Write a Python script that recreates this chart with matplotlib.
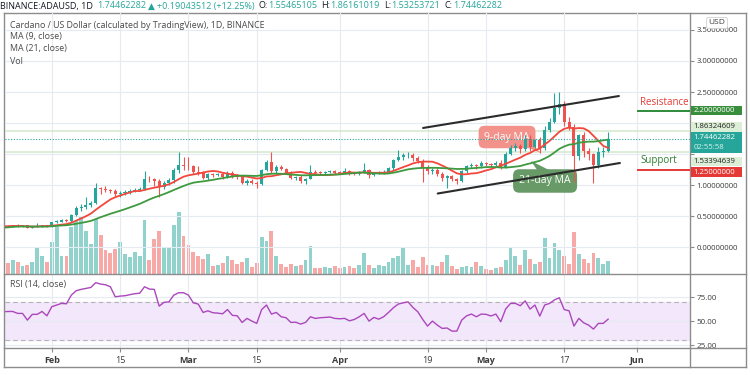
import matplotlib
matplotlib.use("Agg")
import matplotlib.pyplot as plt
import matplotlib.dates as mdates
import matplotlib.transforms as mtransforms
from matplotlib.lines import Line2D
from matplotlib.patches import Rectangle, Polygon
import numpy as np
import pandas as pd

plt.rcParams["font.family"] = ["Open Sans", "DejaVu Sans"]

# daily ADA/USD candles, 22 Jan - 26 May 2021
dates = pd.date_range("2021-01-22", "2021-05-26", freq="D")

opens = [
    .31, .34, .33, .35, .34, .35, .31, .33, .34, .35,
    .33, .40, .41, .43, .42, .52, .63, .65, .68, .71,
    .95, .93, .92, .91, .85, .87, .88, .90, .92, .94,
    1.10, 1.09, 1.07, .97, 1.03, 1.08, 1.24, 1.32, 1.31, 1.30,
    1.21, 1.20, 1.12, 1.18, 1.16, 1.17, 1.13, 1.19, 1.15, 1.13,
    1.04, 1.07, 1.04, 1.02, 1.24, 1.37, 1.22, 1.29, 1.26, 1.20,
    1.12, 1.13, 1.07, 1.10, 1.21, 1.20, 1.19, 1.21, 1.22, 1.20,
    1.19, 1.22, 1.19, 1.18, 1.20, 1.24, 1.16, 1.19, 1.20, 1.21,
    1.27, 1.40, 1.45, 1.48, 1.49, 1.44, 1.38, 1.27, 1.22, 1.25,
    1.17, 1.12, 1.14, 1.09, 1.06, 1.22, 1.30, 1.32, 1.30, 1.35,
    1.34, 1.32, 1.36, 1.29, 1.50, 1.60, 1.63, 1.58, 1.75, 1.62,
    1.72, 1.60, 1.88, 2.02, 2.25, 2.30, 2.02, 1.93, 1.47, 1.80,
    1.55, 1.50, 1.32, 1.53, 1.55465105,
]
highs = [
    .345, .35, .36, .37, .36, .355, .34, .38, .36, .355,
    .41, .44, .45, .46, .54, .66, .70, .80, .74, 1.03,
    .97, .98, .94, .93, .90, .92, .93, .95, .97, 1.22,
    1.14, 1.12, 1.10, 1.06, 1.12, 1.28, 1.53, 1.45, 1.45, 1.33,
    1.30, 1.23, 1.20, 1.20, 1.20, 1.21, 1.22, 1.22, 1.17, 1.15,
    1.09, 1.09, 1.07, 1.26, 1.40, 1.53, 1.33, 1.32, 1.28, 1.22,
    1.15, 1.16, 1.12, 1.32, 1.24, 1.22, 1.23, 1.25, 1.24, 1.22,
    1.27, 1.24, 1.21, 1.23, 1.35, 1.26, 1.21, 1.22, 1.25, 1.29,
    1.42, 1.56, 1.52, 1.53, 1.52, 1.47, 1.42, 1.33, 1.28, 1.28,
    1.21, 1.16, 1.16, 1.12, 1.24, 1.32, 1.36, 1.34, 1.38, 1.37,
    1.36, 1.39, 1.40, 1.53, 1.65, 1.68, 1.66, 1.80, 1.80, 1.75,
    1.78, 1.95, 2.08, 2.48, 2.50, 2.35, 2.10, 1.98, 1.83, 1.85,
    1.60, 1.52, 1.62, 1.62, 1.86161019,
]
lows = [
    .30, .325, .325, .33, .32, .30, .30, .32, .33, .32,
    .32, .38, .40, .40, .41, .50, .58, .62, .64, .69,
    .86, .88, .87, .83, .80, .84, .86, .88, .90, .92,
    1.05, .98, .81, .93, 1.00, 1.03, 1.20, 1.25, 1.24, 1.18,
    1.16, 1.09, 1.08, 1.13, 1.14, 1.10, 1.12, 1.12, 1.10, 1.01,
    1.00, 1.02, .95, 1.00, 1.22, 1.20, 1.20, 1.24, 1.17, 1.10,
    1.08, 1.04, 1.02, 1.09, 1.18, 1.17, 1.17, 1.19, 1.18, 1.17,
    1.18, 1.16, 1.16, 1.16, 1.19, 1.12, 1.15, 1.17, 1.18, 1.19,
    1.25, 1.38, 1.40, 1.43, 1.38, 1.35, 1.05, 1.18, 1.17, 1.15,
    1.07, .95, 1.06, 1.02, 1.05, 1.20, 1.28, 1.26, 1.28, 1.31,
    1.29, 1.30, 1.26, 1.28, 1.48, 1.55, 1.52, 1.55, 1.55, 1.60,
    1.52, 1.56, 1.85, 2.00, 2.15, 1.95, 1.88, 1.05, 1.40, 1.45,
    1.40, 1.03, 1.28, 1.45, 1.53253721,
]
closes = [
    .34, .33, .35, .34, .35, .31, .33, .34, .35, .33,
    .40, .41, .43, .42, .52, .63, .65, .68, .71, .95,
    .93, .92, .91, .85, .87, .88, .90, .92, .94, 1.10,
    1.09, 1.07, .97, 1.03, 1.08, 1.24, 1.32, 1.31, 1.30, 1.21,
    1.20, 1.12, 1.18, 1.16, 1.17, 1.13, 1.19, 1.15, 1.13, 1.04,
    1.07, 1.04, 1.02, 1.24, 1.37, 1.22, 1.29, 1.26, 1.20, 1.12,
    1.13, 1.07, 1.10, 1.21, 1.20, 1.19, 1.21, 1.22, 1.20, 1.19,
    1.22, 1.19, 1.18, 1.20, 1.24, 1.16, 1.19, 1.20, 1.21, 1.27,
    1.40, 1.45, 1.48, 1.49, 1.44, 1.38, 1.27, 1.22, 1.25, 1.17,
    1.12, 1.14, 1.09, 1.06, 1.22, 1.30, 1.32, 1.30, 1.35, 1.34,
    1.32, 1.36, 1.29, 1.50, 1.60, 1.63, 1.58, 1.75, 1.62, 1.72,
    1.60, 1.88, 2.02, 2.25, 2.30, 2.02, 1.93, 1.47, 1.80, 1.55,
    1.50, 1.32, 1.53, 1.55465105, 1.74462282,
]
# closes of the 20 days before the first candle (for the moving averages)
prior_closes = [0.18, 0.21, 0.23, 0.31, 0.33, 0.33, 0.36, 0.37, 0.32, 0.27,
                0.29, 0.30, 0.33, 0.31, 0.34, 0.36, 0.37, 0.35, 0.33, 0.29]

# volume, relative units
volume = [
    23, 11, 14, 12, 8, 9, 12, 26, 18, 12,
    32, 47, 18, 18, 47, 53, 58, 43, 30, 55,
    39, 24, 21, 25, 32, 20, 17, 22, 18, 54,
    14, 35, 43, 26, 27, 49, 62, 38, 29, 22,
    18, 15, 20, 8, 9, 11, 18, 14, 10, 12,
    16, 7, 11, 37, 33, 43, 18, 10, 7, 10,
    8, 9, 14, 28, 6, 6, 7, 6, 8, 6,
    7, 8, 6, 9, 21, 9, 6, 9, 8, 12,
    16, 18, 26, 9, 14, 7, 17, 9, 9, 8,
    12, 19, 8, 5, 7, 8, 7, 12, 8, 5,
    4, 6, 7, 14, 26, 18, 9, 24, 15, 10,
    12, 36, 16, 31, 24, 18, 10, 42, 20, 15,
    11, 21, 16, 10, 13,
]

rsi = [
    59.7, 60, 60, 58, 58, 51, 57, 57, 60, 55.5,
    65, 66.7, 68.4, 68, 77, 81.6, 83, 84, 85, 90,
    88.5, 87.8, 85.7, 75.3, 76, 76.4, 77.5, 78.5, 79, 85.7,
    83.3, 83, 65.6, 69.5, 70, 77, 79.5, 79.5, 77, 69,
    67.7, 59, 60.7, 58.7, 58.3, 57.6, 62, 56, 55.5, 48.6,
    52.8, 50, 47.6, 62, 66.7, 57.3, 59, 54.5, 53.5, 48.6,
    48.8, 46.9, 48.6, 54.5, 52.8, 53.5, 53.8, 54.2, 52.8, 52.4,
    52.8, 50.3, 51.7, 54.5, 58, 50, 53.8, 52, 54.5, 59,
    63.9, 67.7, 69, 70, 64.2, 59.7, 51.8, 44.8, 50, 45.8,
    42.4, 42.8, 39.6, 39.6, 51, 55.5, 57.3, 54.5, 57.3, 57,
    55.3, 57.3, 49.3, 62.5, 68.4, 68.4, 66, 71, 62.5, 66.7,
    55.2, 66.7, 68.4, 72, 74.3, 62, 60.7, 44.8, 52.8, 48.2,
    45.8, 41.7, 47.6, 47.6, 52,
]

tick_dates = ["2021-02-01", "2021-02-15", "2021-03-01", "2021-03-15", "2021-04-01",
              "2021-04-19", "2021-05-01", "2021-05-17", "2021-06-01"]
tick_labels = ["Feb", "15", "Mar", "15", "Apr", "19", "May", "17", "Jun"]
price_ticks = [0.0, 0.5, 1.0, 1.5, 2.0, 2.5, 3.0, 3.5]
hidden_price_labels = [1.5, 2.0]  # covered by the level labels
rsi_ticks = [25, 50, 75]

resistance = 2.2
support = 1.25
last_price = 1.74462282
high_line = 1.86324609
low_line = 1.53394639

# hand-drawn channel lines (date, price)
channel_upper = [("2021-04-18 02:00", 1.92), ("2021-05-28 05:00", 2.435)]
channel_lower = [("2021-04-21 02:00", 0.863), ("2021-05-28 10:00", 1.355)]

UP = "#26a69a"
DOWN = "#ef5350"
GRID = "#e4ebf2"
FRAME = "#8c8c8c"
TXT = "#3c3c3c"

W, H = 750, 375


def fx(px):
    return px / W


def fy(py):
    return 1 - py / H


def fig_line(x0, y0, x1, y1, **kw):
    fig.add_artist(Line2D([fx(x0), fx(x1)], [fy(y0), fy(y1)],
                          transform=fig.transFigure, **kw))


fig = plt.figure(figsize=(7.5, 3.75), dpi=100)
fig.patch.set_facecolor("white")

ax = fig.add_axes([fx(5), fy(274), (690 - 5) / W, (274 - 13) / H])
axv = ax.twinx()
ax_rsi = fig.add_axes([fx(5), fy(348), (690 - 5) / W, (348 - 274) / H], sharex=ax)

x = mdates.date2num(dates)
o = np.array(opens)
c = np.array(closes)
up = c >= o
colors = np.where(up, UP, DOWN)

# volume underneath
axv.set_zorder(1)
ax.set_zorder(2)
ax.patch.set_visible(False)
vol_colors = np.where(up, "#92d2cc", "#f7a9a8")
axv.bar(x, volume, width=0.78, color=vol_colors, zorder=1)
axv.set_ylim(0, max(volume) * 4.2)
axv.set_yticks([])
for s in axv.spines.values():
    s.set_visible(False)

# grid
for d in tick_dates:
    ax.axvline(mdates.date2num(pd.Timestamp(d)), color=GRID, lw=0.8, zorder=0)
    ax_rsi.axvline(mdates.date2num(pd.Timestamp(d)), color=GRID, lw=0.8, zorder=0)
for p in price_ticks:
    ax.axhline(p, color=GRID, lw=0.8, zorder=0)

# level lines
ax.axhline(high_line, color="#d3e8cc", lw=1.1, zorder=1)
ax.axhline(low_line, color="#d3e8cc", lw=1.1, zorder=1)
ax.axhline(last_price, color=UP, lw=0.8, ls=(0, (1, 1.5)), zorder=6)

# candles
ax.vlines(x, lows, highs, colors=colors, lw=0.8, zorder=3)
body = np.maximum(np.abs(c - o), 0.012)
ax.bar(x, body, bottom=np.minimum(o, c), width=0.62, color=colors, zorder=4)

# moving averages
all_close = pd.Series(prior_closes + closes)
ma9 = all_close.rolling(9).mean().iloc[len(prior_closes):].values
ma21 = all_close.rolling(21).mean().iloc[len(prior_closes):].values
ax.plot(x, ma9, color="#f2473c", lw=1.3, zorder=5)
ax.plot(x, ma21, color="#3f9a3f", lw=1.3, zorder=5)

# channel
for line in (channel_upper, channel_lower):
    xs = [mdates.date2num(pd.Timestamp(d)) for d, _ in line]
    ys = [p for _, p in line]
    ax.plot(xs, ys, color="#2b2b2b", lw=1.5, zorder=7, solid_capstyle="round")

# callouts
t9 = mdates.date2num(pd.Timestamp("2021-05-05 07:00"))
ax.text(t9, 1.774, "9-day MA", color="white", fontsize=7.5, ha="center", va="center",
        zorder=2, bbox=dict(boxstyle="round,pad=0.55", fc="#f3918b", ec="none"))
base = mdates.date2num(pd.Timestamp("2021-01-22"))
ax.add_patch(Polygon([[base + 106.8, 1.629], [base + 108.8, 1.629], [base + 110.2, 1.516]],
                     closed=True, fc="#f3918b", ec="none", zorder=2))
t21 = mdates.date2num(pd.Timestamp("2021-05-13 02:00"))
ax.text(t21, 1.065, "21-day MA", color="white", fontsize=7.5, ha="center", va="center",
        zorder=2, bbox=dict(boxstyle="round,pad=0.6", fc="#679a67", ec="none"))
ax.add_patch(Polygon([[base + 109.6, 1.226], [base + 112.3, 1.226], [base + 108.2, 1.387]],
                     closed=True, fc="#679a67", ec="none", zorder=2))

# resistance / support marks near the price scale
trans = mtransforms.blended_transform_factory(ax.transAxes, ax.transData)
ax.plot([0.924, 1.0], [resistance, resistance], transform=trans, color="#2e8b3a", lw=1.4, zorder=6)
ax.plot([0.924, 1.0], [support, support], transform=trans, color="#e53935", lw=1.4, zorder=6)
ax.text(0.927, resistance + 0.05, "Resistance", transform=trans, color="#e53935",
        fontsize=7, va="bottom", ha="left", zorder=6)
ax.text(0.927, support + 0.05, "Support", transform=trans, color="#2e7d32",
        fontsize=7, va="bottom", ha="left", zorder=6)

# axes limits / ticks
ax.set_xlim(base + 0.41, base + 140.78)
ax.set_ylim(-0.435, 3.774)
ax.yaxis.tick_right()
ax.set_yticks(price_ticks)
ax.set_yticklabels(["" if p in hidden_price_labels else f"{p:.8f}" for p in price_ticks])
ax.tick_params(axis="y", length=3, color=FRAME, pad=1.5, labelsize=5.6, labelcolor=TXT)
ax.tick_params(axis="x", length=0, labelbottom=False)
for s in ax.spines.values():
    s.set_visible(False)

ax_rsi.axhspan(30, 70, color="#f3e7fb", zorder=0)
for r in rsi_ticks:
    ax_rsi.axhline(r, color=GRID, lw=0.8, zorder=0.5)
ax_rsi.axhline(70, color="#b3b3b3", lw=0.8, ls=(0, (4, 3)), zorder=1)
ax_rsi.axhline(30, color="#b3b3b3", lw=0.8, ls=(0, (4, 3)), zorder=1)
ax_rsi.plot(x, rsi, color="#ab47bc", lw=1.0, zorder=3)
ax_rsi.set_ylim(22, 99)
ax_rsi.yaxis.tick_right()
ax_rsi.set_yticks(rsi_ticks)
ax_rsi.set_yticklabels([f"{r:.2f}" for r in rsi_ticks])
ax_rsi.tick_params(axis="y", length=3, color=FRAME, pad=1.5, labelsize=5.8, labelcolor=TXT)
ax_rsi.set_xticks([mdates.date2num(pd.Timestamp(d)) for d in tick_dates])
ax_rsi.set_xticklabels(tick_labels)
ax_rsi.tick_params(axis="x", length=3, color=FRAME, pad=3, labelsize=6.5, labelcolor=TXT)
for lab in ax_rsi.get_xticklabels():
    if not lab.get_text().isdigit():
        lab.set_fontweight("bold")
for s in ax_rsi.spines.values():
    s.set_visible(False)

# frame
frame_kw = dict(color=FRAME, lw=1.0)
fig_line(4, 13, 746, 13, **frame_kw)
fig_line(4, 367, 746, 367, **frame_kw)
fig_line(4, 13, 4, 367, **frame_kw)
fig_line(746, 13, 746, 367, **frame_kw)
fig_line(690, 13, 690, 367, **frame_kw)
fig_line(4, 274, 746, 274, **frame_kw)
fig_line(4, 348, 746, 348, **frame_kw)


# price scale labels
def scale_label(y0, y1, fc, lines, tc="white"):
    fig.add_artist(Rectangle((fx(691), fy(y1)), (742 - 691) / W, (y1 - y0) / H,
                             transform=fig.transFigure, fc=fc, ec="none", zorder=10))
    n = len(lines)
    step = (y1 - y0) / n
    for k, (txt, col) in enumerate(lines):
        fig.text(fx(693.5), fy(y0 + step * (k + 0.5)), txt, fontsize=5.6,
                 color=col or tc, va="center", ha="left", zorder=11)


scale_label(105.5, 115, "#388e3c", [(f"{resistance:.8f}", None)])
scale_label(122, 132, "#dcefd6", [(f"{high_line:.8f}", None)], tc="#222222")
scale_label(132.5, 153, UP, [(f"{last_price:.8f}", None), ("02:55:58", "#d8f2ee")])
scale_label(156.5, 166, "#dcefd6", [(f"{low_line:.8f}", None)], tc="#222222")
scale_label(167, 177, "#e53935", [(f"{support:.8f}", None)])

fig.text(fx(717), fy(23), "USD", fontsize=6, color=TXT, ha="center", va="center", zorder=12,
         bbox=dict(boxstyle="round,pad=0.25", fc="white", ec="#d0d0d0", lw=0.6))

# header line, laid out piece by piece
DARK = "#131722"
header = [
    ("BINANCE:ADAUSD, 1D", DARK, 4),
    ("1.74462282", UP, 2),
    ("\u25b2", UP, 2),
    ("+0.19043512 (+12.25%)", UP, 4),
    ("O:", DARK, 0.5),
    ("1.55465105", UP, 4),
    ("H:", DARK, 0.5),
    ("1.86161019", UP, 4),
    ("L:", DARK, 0.5),
    ("1.53253721", UP, 4),
    ("C:", DARK, 0.5),
    ("1.74462282", UP, 0),
]
renderer = fig.canvas.get_renderer()
xpos = 0.0
for txt, col, gap in header:
    t = fig.text(fx(xpos), fy(6), txt, fontsize=6.5, color=col, ha="left", va="center")
    xpos += t.get_window_extent(renderer).width + gap

# indicator legends
legend_lines = [("Cardano / US Dollar (calculated by TradingView), 1D, BINANCE", 25),
                ("MA (9, close)", 37), ("MA (21, close)", 49), ("Vol", 61)]
for txt, py in legend_lines:
    fig.text(fx(10), fy(py), txt, fontsize=6.4, color="#4a4a4a", ha="left", va="center")
fig.text(fx(10), fy(285), "RSI (14, close)", fontsize=6.4, color="#4a4a4a", ha="left", va="center")

fig.savefig("out.png", dpi=100)
